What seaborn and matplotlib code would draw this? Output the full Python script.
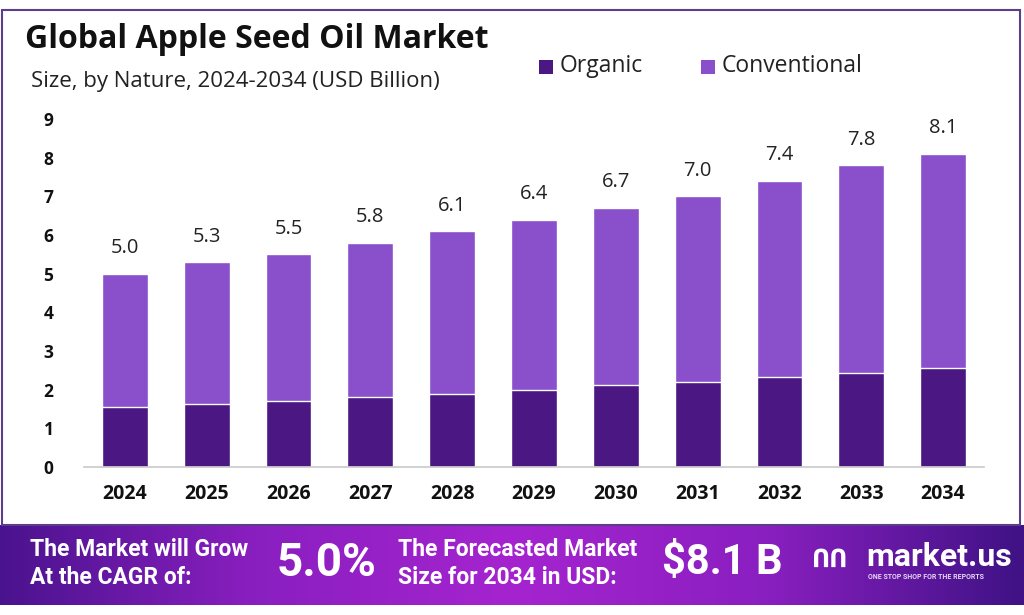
import numpy as np
import pandas as pd
import matplotlib
matplotlib.use("Agg")
import matplotlib.pyplot as plt
from matplotlib.colors import LinearSegmentedColormap
from matplotlib.patches import Rectangle
import seaborn as sns

years = ["2024", "2025", "2026", "2027", "2028", "2029", "2030", "2031", "2032", "2033", "2034"]
total = [5.0, 5.3, 5.5, 5.8, 6.1, 6.4, 6.7, 7.0, 7.4, 7.8, 8.1]
organic = [1.55, 1.63, 1.71, 1.81, 1.89, 1.99, 2.12, 2.20, 2.33, 2.43, 2.56]
conventional = [round(t - o, 2) for t, o in zip(total, organic)]

DARK = "#4b1782"
LIGHT = "#8a4fcb"

sns.set_theme(style="white")
plt.rcParams["font.family"] = ["Open Sans", "DejaVu Sans"]

df = pd.DataFrame({"Year": years, "Organic": organic, "Conventional": conventional, "Total": total})

fig = plt.figure(figsize=(10.24, 6.15), dpi=100)
W, H = 1024, 615

# outer frame
fig.patches.append(Rectangle((2 / W, 1 - 525 / H), 1018 / W, 515 / H, transform=fig.transFigure,
                             fill=False, edgecolor="#5b3d8c", linewidth=1.5))

ax = fig.add_axes([84 / W, 1 - 467 / H, 900 / W, 348 / H])
sns.barplot(data=df, x="Year", y="Total", color=LIGHT, width=0.56, saturation=1, ax=ax)
sns.barplot(data=df, x="Year", y="Organic", color=DARK, width=0.56, saturation=1, ax=ax)
ax.set_xlim(-0.5, 10.5)
ax.set_ylim(0, 9)
ax.set_yticks(range(10))
ax.set_xlabel("")
ax.set_ylabel("")
for s in ["top", "right", "left"]:
    ax.spines[s].set_visible(False)
ax.spines["bottom"].set_color("#cccccc")
ax.tick_params(axis="both", length=0)
ax.tick_params(axis="y", pad=22)
ax.tick_params(axis="x", pad=12)
for lab in ax.get_yticklabels():
    lab.set_fontweight("bold")
    lab.set_fontsize(12.5)
    lab.set_color("#111111")
for lab in ax.get_xticklabels():
    lab.set_fontweight("bold")
    lab.set_fontsize(14)
    lab.set_color("#111111")

for i, t in enumerate(total):
    ax.text(i, t + 0.4, f"{t:.1f}", ha="center", va="bottom", fontsize=14.5, color="#222222", clip_on=False)

fig.text(25 / W, 1 - 40 / H, "Global Apple Seed Oil Market", fontsize=23, fontweight="bold",
         color="#111111", va="center", ha="left")
fig.text(31 / W, 1 - 82 / H, "Size, by Nature, 2024-2034 (USD Billion)", fontsize=16,
         color="#222222", va="center", ha="left")

# legend
for x0, lab, c in [(539, "Organic", DARK), (701, "Conventional", LIGHT)]:
    fig.patches.append(Rectangle((x0 / W, 1 - 74 / H), 14 / W, 14 / H, transform=fig.transFigure,
                                 facecolor=c, edgecolor="none"))
    fig.text((x0 + 21) / W, 1 - 66 / H, lab, fontsize=16.5, color="#222222", va="center", ha="left")

# bottom banner with gradient
bax = fig.add_axes([0, 1 - 605 / H, 1, 80 / H])
cmap = LinearSegmentedColormap.from_list("band", ["#4a138e", "#8a1fc0", "#a524cf", "#8a1fc0", "#3f1285"])
grad = np.linspace(0, 1, 512).reshape(1, -1)
bax.imshow(grad, aspect="auto", cmap=cmap, extent=[0, 1, 0, 1])
bax.set_xlim(0, 1)
bax.set_ylim(0, 1)
bax.axis("off")

wfont = ["Roboto", "DejaVu Sans"]
fig.text(30 / W, 1 - 550 / H, "The Market will Grow", fontsize=16.5, fontweight="bold", color="white",
         va="center", family=wfont)
fig.text(30 / W, 1 - 578 / H, "At the CAGR of:", fontsize=16.5, fontweight="bold", color="white",
         va="center", family=wfont)
fig.text(277 / W, 1 - 563 / H, "5.0%", fontsize=33, fontweight="bold", color="white",
         va="center", family=wfont)
fig.text(398 / W, 1 - 550 / H, "The Forecasted Market", fontsize=16.5, fontweight="bold", color="white",
         va="center", family=wfont)
fig.text(398 / W, 1 - 578 / H, "Size for 2034 in USD:", fontsize=16.5, fontweight="bold", color="white",
         va="center", family=wfont)
fig.text(662 / W, 1 - 563 / H, "$8.1 B", fontsize=30, fontweight="bold", color="white",
         va="center", family=wfont)
fig.text(812 / W, 1 - 560 / H, "ՈՈ", fontsize=18, fontweight="bold", color="white",
         va="center", family=wfont)
fig.text(866 / W, 1 - 557 / H, "market.us", fontsize=23, fontweight="bold", color="white",
         va="center", family=wfont)
fig.text(868 / W, 1 - 577 / H, "ONE STOP SHOP FOR THE REPORTS", fontsize=5, fontweight="bold",
         color="#e6d6f5", va="center", family=wfont)

fig.savefig("out.png", dpi=100)
